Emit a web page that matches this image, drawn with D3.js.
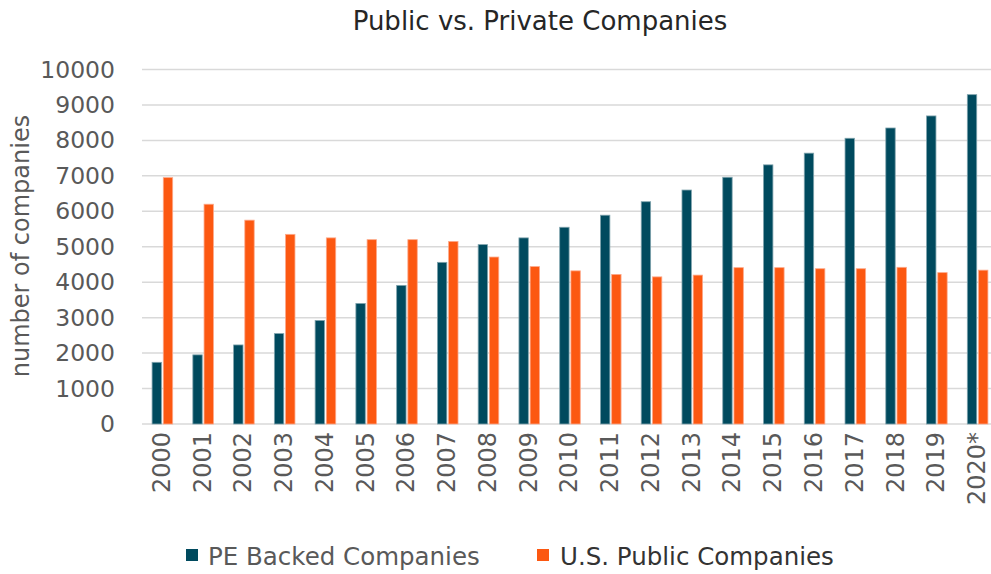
<!DOCTYPE html>
<html>
<head>
<meta charset="utf-8">
<script src="https://cdn.jsdelivr.net/npm/d3@7"></script>
<style>
  html, body { margin: 0; padding: 0; background: #fff; overflow: hidden; }
  svg { display: block; font-family: "DejaVu Sans", sans-serif; }
</style>
</head>
<body>
<svg id="chart" width="991" height="574"></svg>
<script>
const years = ["2000","2001","2002","2003","2004","2005","2006","2007","2008","2009","2010",
               "2011","2012","2013","2014","2015","2016","2017","2018","2019","2020*"];
const peBacked = [1740,1950,2230,2550,2920,3400,3910,4560,5060,5250,5550,
                  5890,6270,6600,6960,7310,7640,8060,8350,8690,9290];
const usPublic = [6950,6200,5750,5350,5250,5200,5200,5150,4710,4440,4320,
                  4220,4150,4200,4410,4410,4380,4380,4420,4270,4340];
const seriesNames = ["PE Backed Companies", "U.S. Public Companies"];
const yTicks = [0,1000,2000,3000,4000,5000,6000,7000,8000,9000,10000];
const colors = ["#004a5e", "#fc5811"];
const strokes = ["#7fa3ad", "#fda98a"];
const FONT = "'DejaVu Sans', sans-serif";

const svg = d3.select("#chart");
const mLeft = 142, mRight = 998, mTop = 69.5, mBottom = 424;

const x = d3.scaleBand().domain(years).range([mLeft, mRight]).paddingInner(0).paddingOuter(0);
const y = d3.scaleLinear().domain([0, 10000]).range([mBottom, mTop]);
const barW = 9.4, gap = 1.8;
const groupW = barW * 2 + gap;

// gridlines
svg.append("g").selectAll("line").data(yTicks).join("line")
  .attr("x1", mLeft).attr("x2", mRight)
  .attr("y1", d => y(d)).attr("y2", d => y(d))
  .attr("stroke", "#d9d9d9").attr("stroke-width", 1.5);

// y axis
const yAxis = svg.append("g").attr("transform", `translate(${mLeft},0)`)
  .call(d3.axisLeft(y).tickValues(yTicks).tickFormat(d3.format("d")).tickSize(0).tickPadding(27));
yAxis.select(".domain").remove();
yAxis.selectAll("text").attr("font-size", 23.5).attr("fill", "#595959")
  .attr("font-family", FONT);

// bars
const series = [peBacked, usPublic];
series.forEach((vals, si) => {
  svg.append("g").selectAll("rect").data(vals).join("rect")
    .attr("x", (d, i) => x(years[i]) + (x.bandwidth() - groupW) / 2 + si * (barW + gap))
    .attr("y", d => y(d))
    .attr("width", barW)
    .attr("height", d => y(0) - y(d))
    .attr("fill", colors[si])
    .attr("stroke", strokes[si]).attr("stroke-width", 0.8);
});

// x axis labels
const xAxis = svg.append("g").attr("transform", `translate(0,${mBottom})`)
  .call(d3.axisBottom(x).tickSize(0).tickPadding(0));
xAxis.select(".domain").remove();
xAxis.selectAll("text")
  .attr("font-size", 24).attr("fill", "#595959")
  .attr("font-family", FONT)
  .attr("transform", "rotate(-90)")
  .attr("text-anchor", "end")
  .attr("dy", "0.35em")
  .attr("x", -8).attr("y", -1);

// title
svg.append("text").attr("x", 540).attr("y", 30).attr("text-anchor", "middle")
  .attr("font-size", 26).attr("fill", "#262626").text("Public vs. Private Companies");

// y title
svg.append("text").attr("transform", "translate(29,246) rotate(-90)")
  .attr("text-anchor", "middle").attr("font-size", 24).attr("fill", "#595959")
  .text("number of companies");

// legend
const legendItems = [
  {name: seriesNames[0], color: colors[0], sx: 186, tx: 208, tc: "#595959"},
  {name: seriesNames[1], color: colors[1], sx: 537, tx: 560, tc: "#333333"}
];
const lg = svg.append("g");
legendItems.forEach(it => {
  lg.append("rect").attr("x", it.sx).attr("y", 549).attr("width", 12).attr("height", 12).attr("fill", it.color);
  lg.append("text").attr("x", it.tx).attr("y", 565).attr("font-size", 24.5).attr("fill", it.tc).text(it.name);
});
</script>
</body>
</html>
